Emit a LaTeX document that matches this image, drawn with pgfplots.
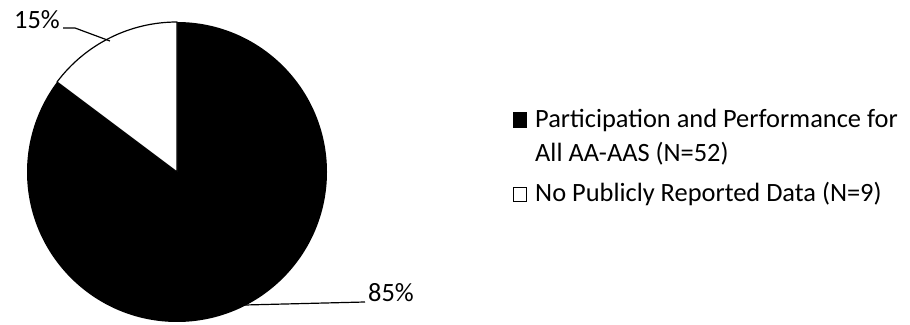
\documentclass[border=0pt]{standalone}
\usepackage{pgfplots}
\usepackage{pgfplotstable}
\pgfplotsset{compat=1.18}
\usepackage{fontspec}
\setmainfont{Carlito}

% Number of states in each reporting category
\pgfplotstableread{
group n
Reported 52
NotReported 9
}\piedata

\begin{document}
\begin{tikzpicture}[every node/.style={inner sep=0pt,font=\fontsize{26.4}{31}\selectfont}]
\pgfplotstablegetelem{0}{n}\of\piedata \edef\na{\pgfplotsretval}
\pgfplotstablegetelem{1}{n}\of\piedata \edef\nb{\pgfplotsretval}
\pgfmathsetmacro\angA{\na/(\na+\nb)*360}
\pgfmathsetmacro\angB{\nb/(\na+\nb)*360}
\pgfmathsetmacro\endA{90-\angA}
\pgfmathsetmacro\endB{90+\angB}
\begin{axis}[x=1pt,y=1pt,xmin=0,xmax=910,ymin=0,ymax=324,
  hide axis,clip=false]
  % black slice, clockwise from 12 o'clock
  \fill[black] (axis cs:177,152) -- (axis cs:177,302)
    arc[start angle=90,end angle=\endA,radius=150pt] -- cycle;
  % white slice
  \filldraw[fill=white,draw=black,line width=1.2pt,line join=round]
    (axis cs:177,152) -- (axis cs:177,302)
    arc[start angle=90,end angle=\endB,radius=150pt] -- cycle;
  % data labels with leader lines
  \draw[line width=1.2pt] (axis cs:63,296) -- (axis cs:75,296) -- (axis cs:110,283);
  \node[anchor=base west] at (axis cs:14,295) {15\%};
  \draw[line width=1.2pt] (axis cs:245,19) -- (axis cs:365,22);
  \node[anchor=base west] at (axis cs:368,22) {85\%};
  % legend
  \fill[black] (axis cs:513,196) rectangle (axis cs:527,212);
  \node[anchor=base west] at (axis cs:535,196) {Participation and Performance for};
  \node[anchor=base west] at (axis cs:535,162) {All AA-AAS (N=52)};
  \draw[line width=1pt] (axis cs:513.5,122.5) rectangle (axis cs:526.5,136.5);
  \node[anchor=base west] at (axis cs:535,122) {No Publicly Reported Data (N=9)};
\end{axis}
\pgfresetboundingbox
\useasboundingbox (0,0) rectangle (910pt,324pt);
\end{tikzpicture}
\end{document}
